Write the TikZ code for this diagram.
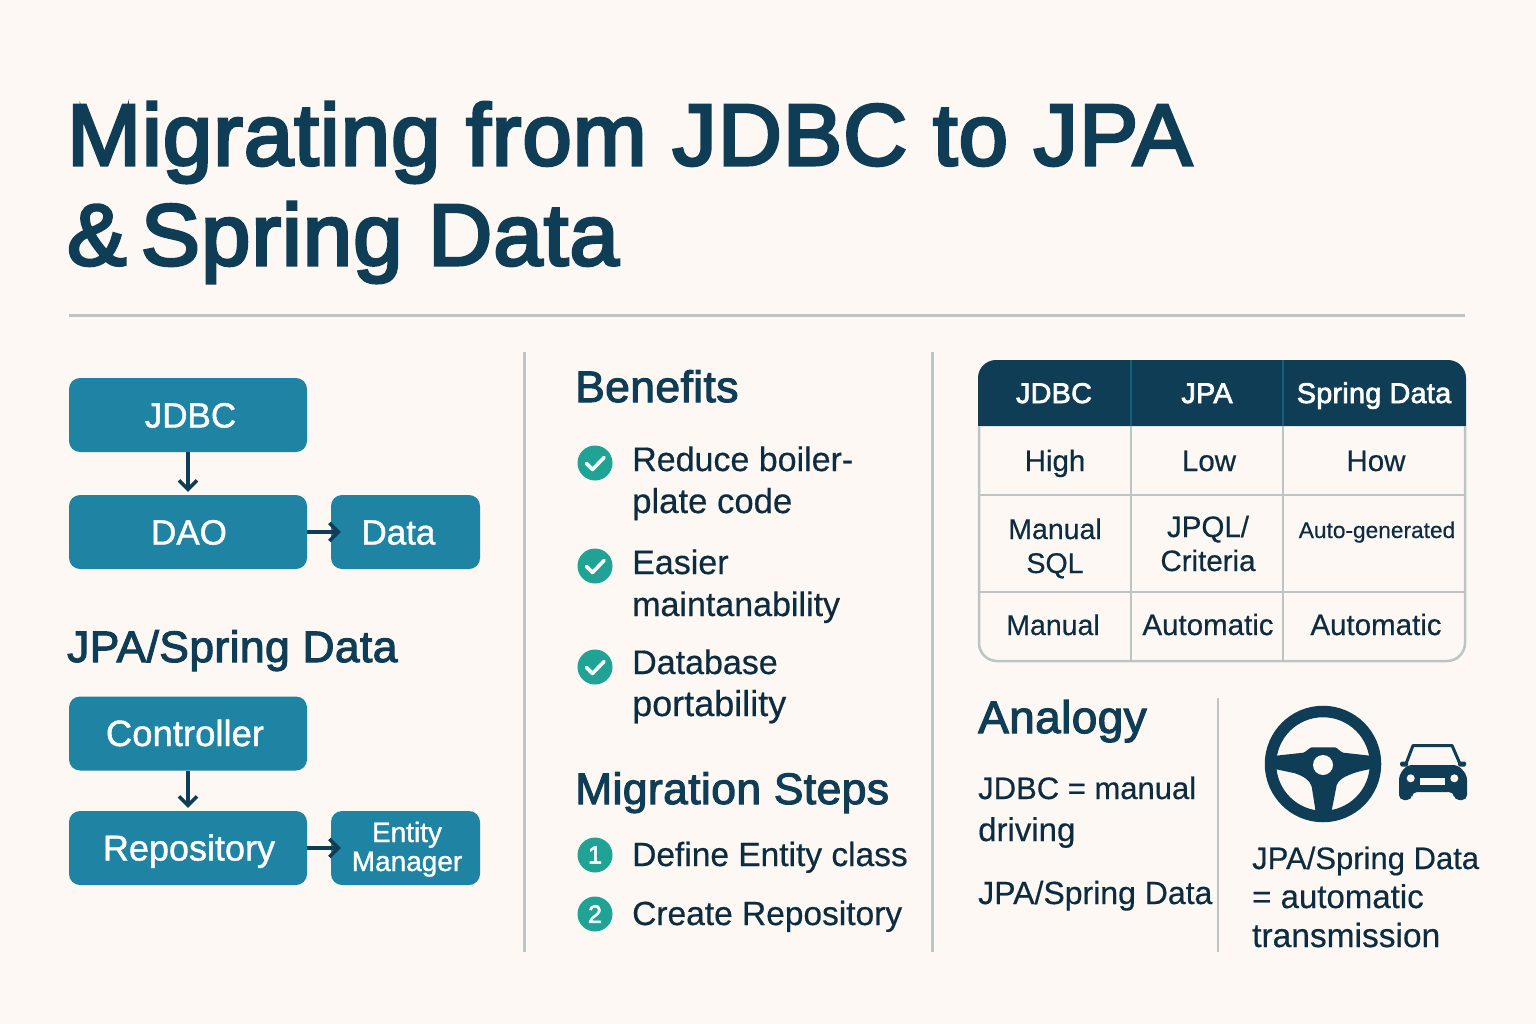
\documentclass[tikz,border=0pt]{standalone}
\usepackage{fontspec}
\setmainfont[FakeBold=0.5]{Liberation Sans}
\newfontfamily\titlef[FakeBold=3.5,FakeStretch=1.02,LetterSpace=1.2]{Liberation Sans}
\newfontfamily\semib[FakeBold=2.5,FakeStretch=1.01,LetterSpace=0.9]{Liberation Sans}
\newfontfamily\medi[FakeBold=1.2]{Liberation Sans}
\usetikzlibrary{arrows.meta}
\definecolor{bgc}{HTML}{FDF8F3}
\definecolor{navy}{HTML}{0F3D56}
\definecolor{ink}{HTML}{0E2C40}
\definecolor{tealbox}{HTML}{1F84A3}
\definecolor{green}{HTML}{20A395}
\definecolor{rulec}{HTML}{BEC3C3}
\newcommand{\fs}[2]{\fontsize{#1}{#2}\selectfont}
\tikzset{
  x=1pt,y=-1pt,
  boxn/.style={fill=tealbox,rounded corners=11pt,inner sep=0pt,text=white,font=\medi\fs{35}{35}},
  boxs/.style={boxn,text height=25pt,text depth=0pt},
  arr/.style={draw=navy,line width=3.5pt,-{Straight Barb[length=9pt,width=18pt,line width=3.5pt]}},
  head/.style={anchor=base west,inner sep=0pt,text=navy,font=\semib\fs{44}{48}},
  body/.style={anchor=base west,inner sep=0pt,text=ink,align=left,font=\fs{34}{42}},
  cell/.style={anchor=base,inner sep=0pt,text=ink,align=center,font=\fs{29.5}{34}},
  hcell/.style={anchor=base,inner sep=0pt,text=white,font=\semib\fs{28.5}{34}},
  rulel/.style={draw=rulec,line width=3pt},
  badge/.style={circle,fill=green,minimum size=35pt,inner sep=0pt,text=white,font=\semib\fs{25}{25}},
  tick/.style={draw=white,line width=3.6pt,line cap=round,line join=round},
}
\begin{document}
\begin{tikzpicture}
\useasboundingbox (0,0) rectangle (1536,1024);
\fill[bgc] (0,0) rectangle (1536,1024);
% title
\node[anchor=base west,inner sep=0pt,text=navy,font=\titlef\fs{87}{87}] (t1) at (67,165) {Migrating from JDBC to JPA};
\node[anchor=base west,inner sep=0pt,text=navy,font=\titlef\fs{87}{87}] (t2) at (67,265) {\&\,Spring Data};
\draw[rulel] (69,315) -- (1465,315);
\draw[rulel] (524,352) -- (524,952);
\draw[rulel] (932,352) -- (932,952);
\draw[rulel,line width=2.5pt] (1218,698) -- (1218,952);
% left flow
\node[boxs,minimum width=238pt,minimum height=74pt] (jdbc) at (188,415) {JDBC\kern-5pt};
\node[boxs,minimum width=238pt,minimum height=74pt] (dao) at (188,532) {DAO\kern-2pt};
\node[boxs,minimum width=149pt,minimum height=74pt] (data) at (405.5,532) {\kern-14pt Data};
\draw[arr] (jdbc) -- ([yshift=3pt]dao.north);
\draw[arr] (dao) -- ([xshift=10pt]data.west);
\node[head] (jpah) at (67,662) {JPA/Spring Data};
\node[boxs,minimum width=238pt,minimum height=74pt,font=\medi\fs{36.5}{36}] (ctrl) at (188,733.5) {\kern-6pt Controller};
\node[boxs,minimum width=238pt,minimum height=74pt,font=\medi\fs{36}{36}] (repo) at (188,848) {Repository\kern-2pt};
\node[boxn,minimum width=149pt,minimum height=74pt,align=center,font=\medi\fs{28}{29},text height=46pt,text depth=0pt] (em) at (405.5,848) {\kern3pt Entity\\\kern3pt Manager};
\draw[arr] (ctrl) -- ([yshift=3pt]repo.north);
\draw[arr] (repo) -- ([xshift=10pt]em.west);
% benefits
\node[head] (ben) at (575,402) {Benefits};
\node[badge] (c1) at (595,463) {};
\draw[tick] (586.5,463.5) -- (592.5,469.5) -- (604,457.5);
\node[body] (b1) at (632,513) {Reduce boiler-\\{\fs{34.7}{42}plate code}};
\node[badge] (c2) at (595,566) {};
\draw[tick] (586.5,566.5) -- (592.5,572.5) -- (604,560.5);
\node[body] (b2) at (632,616) {Easier\\maintanability};
\node[badge] (c3) at (595,667) {};
\draw[tick] (586.5,667.5) -- (592.5,673.5) -- (604,661.5);
\node[body] (b3) at (632,716) {Database\\{\fs{36}{42}portability}};
\node[head] (mig) at (575,804) {Migration Steps};
\node[badge] (n1) at (595,855) {1};
\node[body,font=\fs{33.5}{42}] (s1) at (632,866) {Define Entity class};
\node[badge] (n2) at (595,914) {2};
\node[body,font=\fs{33.5}{42}] (s2) at (632,925) {Create Repository};
% table
\fill[navy] (978,426) [rounded corners=18pt] -- (978,360) -- (1466,360) [sharp corners] -- (1466,426) -- cycle;
\draw[rulec,line width=2.5pt,rounded corners=18pt] (979,426) -- (979,661) -- (1465,661) -- (1465,426);
\draw[rulec,line width=2.5pt] (979,495) -- (1465,495);
\draw[rulec,line width=2.5pt] (979,592) -- (1465,592);
\draw[rulec,line width=2.5pt] (1131,426) -- (1131,661);
\draw[rulec,line width=2.5pt] (1283,426) -- (1283,661);
\draw[tealbox!45!navy,line width=1.2pt] (1131,360) -- (1131,426);
\draw[tealbox!45!navy,line width=1.2pt] (1283,360) -- (1283,426);
\node[hcell] (h1) at (1054,403) {JDBC};
\node[hcell] (h2) at (1207,403) {JPA};
\node[hcell] (h3) at (1374,403) {Spring Data};
\node[cell] (r11) at (1055,471) {High};
\node[cell] (r12) at (1209,471) {Low};
\node[cell] (r13) at (1376,471) {How};
\node[cell,font=\fs{28.5}{34}] (r21) at (1055,573) {Manual\\SQL};
\node[cell] (r22) at (1208,571) {JPQL/\\Criteria};
\node[cell,font=\fs{22.7}{30}] (r23) at (1377,538) {Auto-generated};
\node[cell,font=\fs{28.5}{34}] (r31) at (1053,635) {Manual};
\node[cell] (r32) at (1208,635) {Automatic};
\node[cell] (r33) at (1376,635) {Automatic};
% analogy
\node[head,font=\semib\fs{45.5}{50}] (ana) at (978,733) {Analogy};
\node[body,font=\fs{31}{42}] (a1) at (978,841) {JDBC = manual\\{\fs{33}{42}driving}};
\node[body,font=\fs{32}{42}] (a2) at (978,904) {JPA/Spring Data};
\node[body,font=\fs{31}{39}] (a3) at (1252,947) {JPA/Spring Data\\{\fs{33}{39}= automatic}\\{\fs{33.5}{39}transmission}};
% wheel
\draw[navy,line width=11.5pt] (1323,764) circle[radius=52.5];
\fill[navy] (1276,755.7) -- (1303.3,752.7) .. controls (1306,752) and (1309,748) .. (1311.7,747.3) -- (1335,747.3) .. controls (1338,748) and (1340,752) .. (1343.3,752.7) -- (1370,755.7) -- (1371,769) .. controls (1360,771) and (1357,772) .. (1353.3,773.3) .. controls (1340,778) and (1338,782) .. (1336.7,785) -- (1331,814) -- (1316,814) -- (1311.7,786.7) .. controls (1310,780) and (1303,776) .. (1295,773.3) -- (1275,769) -- cycle;
\fill[bgc] (1323,765) circle[radius=10];
% car
\fill[navy,rounded corners=5pt] (1399,800) -- (1399,775) -- (1407,765) -- (1458,765) -- (1467,775) -- (1467,800) -- (1454,800) -- (1454,792) -- (1412,792) -- (1412,800) -- cycle;
\draw[navy,line width=3pt,line join=round] (1405.5,765) -- (1413,745.5) -- (1452,745.5) -- (1460.5,765);
\fill[navy,rounded corners=1.5pt] (1400,761.5) rectangle (1408,766.5);
\fill[navy,rounded corners=1.5pt] (1458,761.5) rectangle (1466,766.5);
\fill[bgc] (1410.7,778.3) circle[radius=4];
\fill[bgc] (1454.3,778.3) circle[radius=4];
\fill[bgc] (1420,778) rectangle (1445,785);
\end{tikzpicture}
\end{document}
